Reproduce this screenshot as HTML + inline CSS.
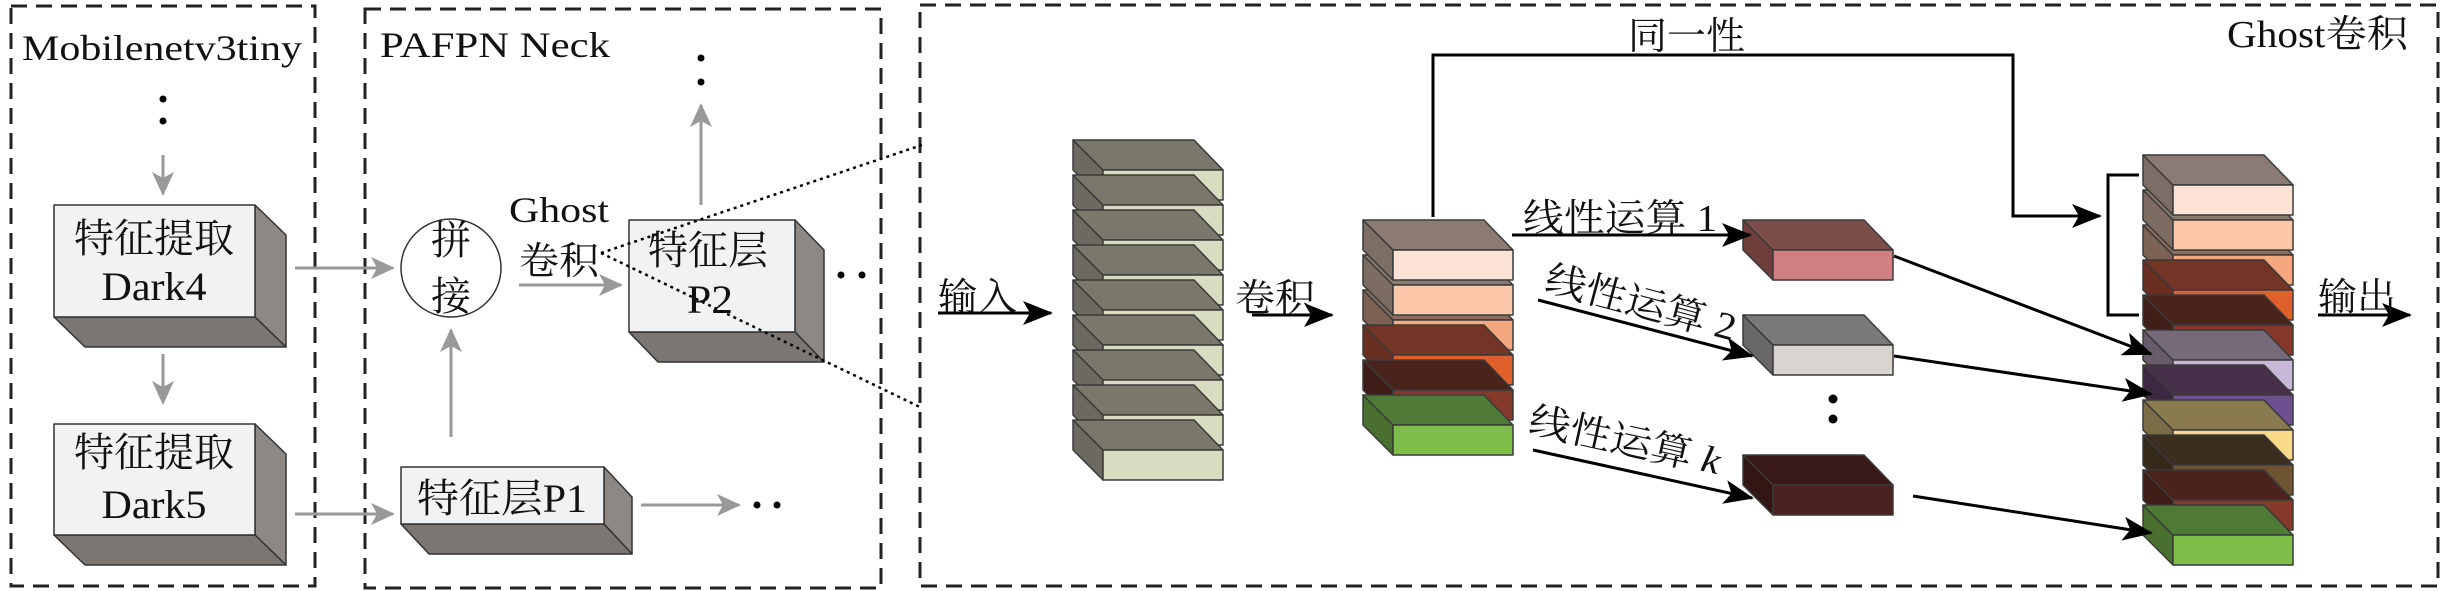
<!DOCTYPE html>
<html><head><meta charset="utf-8"><style>
html,body{margin:0;padding:0;background:#fff;}
svg{display:block;}
.s{font-family:"Liberation Serif","Noto Serif CJK SC",serif;fill:#111;}
.c{font-family:"Liberation Serif","Noto Serif CJK SC",serif;fill:#111;}
</style></head><body>
<svg width="2441" height="591" viewBox="0 0 2441 591" xmlns="http://www.w3.org/2000/svg">
<defs>
<marker id="ba" markerWidth="30" markerHeight="24" refX="28" refY="12" orient="auto" markerUnits="userSpaceOnUse" viewBox="0 0 30 24"><path d="M0,0 L30,12 L0,24 L7,12 z" fill="#000"/></marker>
<marker id="gb" markerWidth="24" markerHeight="22" refX="22" refY="11" orient="auto" markerUnits="userSpaceOnUse" viewBox="0 0 24 22"><path d="M0,0 L24,11 L0,22 L6,11 z" fill="#999"/></marker>
<g id="slab" stroke="#3a3a3a" stroke-width="1.5" stroke-linejoin="round">
<polygon points="0,0 30,30 30,60 0,30" style="fill:var(--l)"/>
<polygon points="0,0 121,0 150,30 30,30" style="fill:var(--t)"/>
<rect x="30" y="30" width="120" height="30" style="fill:var(--f)"/>
</g>
</defs>

<g fill="none" stroke="#222" stroke-width="3" stroke-dasharray="16,9">
<rect x="11" y="6" width="304" height="580"/>
<rect x="365" y="9" width="516" height="579"/>
<rect x="920" y="5" width="1518" height="581"/>
</g>

<text class="s" x="22" y="60" font-size="36" textLength="280" lengthAdjust="spacingAndGlyphs">Mobilenetv3tiny</text>
<text class="s" x="380" y="57" font-size="36" textLength="230" lengthAdjust="spacingAndGlyphs">PAFPN Neck</text>

<g fill="#000">
<circle cx="163" cy="99" r="3.5"/><circle cx="163" cy="121" r="3.5"/>
<circle cx="701" cy="58" r="3.5"/><circle cx="701" cy="82" r="3.5"/>
<circle cx="841" cy="275" r="3.5"/><circle cx="862" cy="275" r="3.5"/>
<circle cx="757" cy="505" r="3.5"/><circle cx="777" cy="505" r="3.5"/>
<circle cx="1833" cy="399" r="4.5"/><circle cx="1833" cy="419" r="4.5"/>
</g>

<g stroke="#999" stroke-width="3" fill="none" marker-end="url(#gb)">
<line x1="163" y1="155" x2="163" y2="194"/>
<line x1="163" y1="354" x2="163" y2="403"/>
<line x1="295" y1="268" x2="393" y2="268"/>
<line x1="295" y1="514" x2="393" y2="514"/>
<line x1="451" y1="437" x2="451" y2="330"/>
<line x1="519" y1="285" x2="621" y2="285"/>
<line x1="701" y1="205" x2="701" y2="105"/>
<line x1="641" y1="505" x2="739" y2="505"/>
</g>

<g stroke="#333" stroke-width="1.5" stroke-linejoin="round">
<polygon points="255,205 286,235 286,347 255,317" fill="#8e8884"/>
<polygon points="54,317 255,317 286,347 85,347" fill="#7c7672"/>
<rect x="54" y="205" width="201" height="112" fill="#f2f2f2"/>
<polygon points="255,424 286,454 286,565 255,535" fill="#8e8884"/>
<polygon points="54,535 255,535 286,565 85,565" fill="#7c7672"/>
<rect x="54" y="424" width="201" height="111" fill="#f2f2f2"/>
<polygon points="604,467 632,497 632,554 604,524" fill="#8e8884"/>
<polygon points="401,524 604,524 632,554 429,554" fill="#7c7672"/>
<rect x="401" y="467" width="203" height="57" fill="#f2f2f2"/>
<polygon points="795,220 824,250 824,362 795,332" fill="#8e8884"/>
<polygon points="629,332 795,332 824,362 658,362" fill="#7c7672"/>
<rect x="629" y="220" width="166" height="112" fill="#f2f2f2"/>
</g>
<ellipse cx="451" cy="268" rx="50" ry="49" fill="#fff" stroke="#333" stroke-width="1.5"/>

<g class="c" font-size="40" text-anchor="middle">
<text x="154" y="252">特征提取</text>
<text x="154" y="300" textLength="105" lengthAdjust="spacingAndGlyphs">Dark4</text>
<text x="154" y="466">特征提取</text>
<text x="154" y="518" textLength="105" lengthAdjust="spacingAndGlyphs">Dark5</text>
<text x="451" y="254">拼</text>
<text x="451" y="310">接</text>
<text x="708" y="264" textLength="120" lengthAdjust="spacingAndGlyphs">特征层</text>
<text x="710" y="313" textLength="46" lengthAdjust="spacingAndGlyphs">P2</text>
<text x="502" y="512" textLength="170" lengthAdjust="spacingAndGlyphs">特征层P1</text>
</g>
<text class="s" x="509" y="222" font-size="36" textLength="100" lengthAdjust="spacingAndGlyphs">Ghost</text>
<text class="c" x="519" y="274" font-size="38" textLength="80" lengthAdjust="spacingAndGlyphs">卷积</text>

<g stroke="#000" stroke-width="2.5" stroke-dasharray="3,4" fill="none">
<line x1="601" y1="253" x2="922" y2="145"/>
<line x1="601" y1="253" x2="922" y2="408"/>
</g>

<g style="--t:#7a776b;--l:#6c6a60;--f:#d9dcc0">
<use href="#slab" x="1073" y="140"/><use href="#slab" x="1073" y="175"/><use href="#slab" x="1073" y="210"/>
<use href="#slab" x="1073" y="245"/><use href="#slab" x="1073" y="280"/><use href="#slab" x="1073" y="315"/>
<use href="#slab" x="1073" y="350"/><use href="#slab" x="1073" y="385"/><use href="#slab" x="1073" y="420"/>
</g>

<use href="#slab" x="1363" y="290" style="--t:#8a6e5e;--l:#7c6252;--f:#f5a87e"/>
<use href="#slab" x="1363" y="255" style="--t:#8a7a70;--l:#7c6c62;--f:#fdc8aa"/>
<use href="#slab" x="1363" y="220" style="--t:#8b7b73;--l:#7d6e66;--f:#fde3d5"/>
<use href="#slab" x="1363" y="325" style="--t:#743526;--l:#682e20;--f:#e0602c"/>
<use href="#slab" x="1363" y="360" style="--t:#4a241c;--l:#401e18;--f:#84392a"/>
<use href="#slab" x="1363" y="395" style="--t:#4e7a35;--l:#4a7030;--f:#7dbd48"/>

<use href="#slab" x="1743" y="220" style="--t:#7c4e4a;--l:#6e3e3a;--f:#d08080"/>
<use href="#slab" x="1743" y="315" style="--t:#7c7a78;--l:#6a6866;--f:#d8d5d0"/>
<use href="#slab" x="1743" y="455" style="--t:#3a1a18;--l:#321614;--f:#4a2220"/>

<use href="#slab" x="2143" y="225" style="--t:#8a6e5e;--l:#7c6252;--f:#f5a87e"/>
<use href="#slab" x="2143" y="190" style="--t:#8a7a70;--l:#7c6c62;--f:#fdc8aa"/>
<use href="#slab" x="2143" y="155" style="--t:#8a7c74;--l:#7c6e66;--f:#fde3d5"/>
<use href="#slab" x="2143" y="260" style="--t:#743526;--l:#682e20;--f:#e0602c"/>
<use href="#slab" x="2143" y="295" style="--t:#4a241c;--l:#401e18;--f:#84392a"/>
<use href="#slab" x="2143" y="330" style="--t:#746a78;--l:#665c6a;--f:#c8b8d8"/>
<use href="#slab" x="2143" y="365" style="--t:#46304a;--l:#3c2840;--f:#6e5090"/>
<use href="#slab" x="2143" y="400" style="--t:#8a7a50;--l:#7c6c46;--f:#f8da88"/>
<use href="#slab" x="2143" y="435" style="--t:#3c2e1e;--l:#342818;--f:#6e5430"/>
<use href="#slab" x="2143" y="470" style="--t:#4a241c;--l:#401e18;--f:#853a2a"/>
<use href="#slab" x="2143" y="505" style="--t:#4e7a35;--l:#4a7030;--f:#7dbd48"/>

<g stroke="#000" stroke-width="3" fill="none" marker-end="url(#ba)">
<line x1="938" y1="313" x2="1051" y2="313"/>
<line x1="1252" y1="315" x2="1332" y2="315"/>
<polyline points="1433,217 1433,55 2013,55 2013,216 2100,216"/>
<line x1="1512" y1="235" x2="1750" y2="235"/>
<line x1="1538" y1="300" x2="1752" y2="356"/>
<line x1="1533" y1="450" x2="1752" y2="498"/>
<line x1="1894" y1="256" x2="2151" y2="354"/>
<line x1="1894" y1="356" x2="2151" y2="394"/>
<line x1="1913" y1="496" x2="2151" y2="533"/>
<line x1="2318" y1="315" x2="2410" y2="315"/>
</g>
<polyline points="2139,175 2108,175 2108,315 2139,315" fill="none" stroke="#000" stroke-width="3"/>

<g class="c" font-size="38">
<text x="938" y="310" textLength="79" lengthAdjust="spacingAndGlyphs">输入</text>
<text x="1235" y="311" textLength="80" lengthAdjust="spacingAndGlyphs">卷积</text>
<text x="1628" y="49" textLength="117" lengthAdjust="spacingAndGlyphs">同一性</text>
<text x="1523" y="231" textLength="194" lengthAdjust="spacingAndGlyphs">线性运算 1</text>
<text transform="translate(1543,290) rotate(15)" textLength="196" lengthAdjust="spacingAndGlyphs">线性运算 2</text>
<text transform="translate(1527,432) rotate(12.5)" textLength="195" lengthAdjust="spacingAndGlyphs">线性运算 <tspan font-style="italic">k</tspan></text>
<text x="2318" y="310" textLength="78" lengthAdjust="spacingAndGlyphs">输出</text>
<text x="2227" y="47" textLength="181" lengthAdjust="spacingAndGlyphs">Ghost卷积</text>
</g>
</svg>
</body></html>
